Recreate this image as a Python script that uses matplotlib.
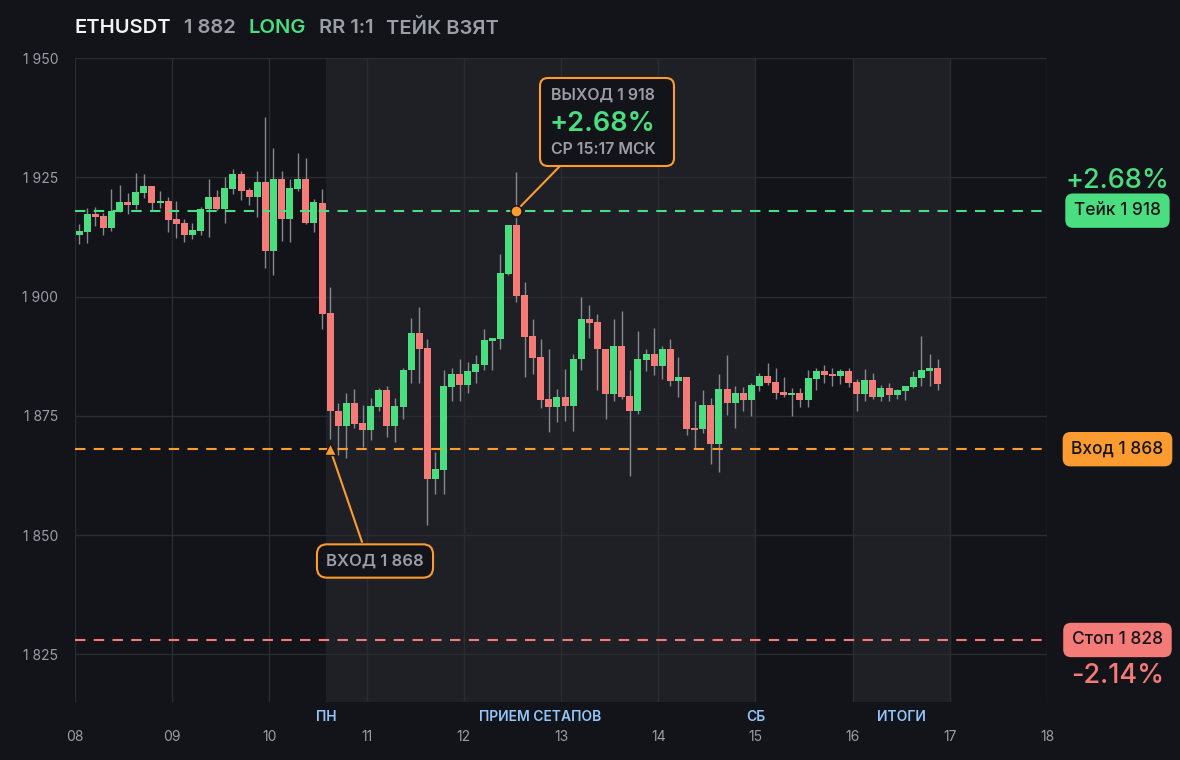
import matplotlib
matplotlib.use("Agg")
import matplotlib.pyplot as plt
from matplotlib.patches import FancyBboxPatch
from matplotlib.transforms import blended_transform_factory
import numpy as np

plt.rcParams['font.family'] = ['Inter', 'DejaVu Sans']

# ETHUSDT, 2h candles starting 08 00:00
opens = [1912.8, 1913.5, 1917.2, 1916.8, 1914.3, 1917.9, 1919.8, 1919.1, 1921.7, 1923.1,
         1919.6, 1920.0, 1916.2, 1915.4, 1913.0, 1913.7, 1918.3, 1920.8, 1918.3, 1922.5,
         1925.6, 1922.3, 1920.8, 1924.0, 1909.5, 1924.6, 1916.2, 1922.5, 1924.6, 1915.4,
         1919.7, 1896.6, 1876.1, 1872.9, 1877.7, 1873.5, 1872.1, 1876.9, 1880.3, 1872.9,
         1876.9, 1884.5, 1892.3, 1889.3, 1861.8, 1863.7, 1881.1, 1883.8, 1881.5, 1884.1,
         1885.7, 1890.6, 1891.0, 1904.8, 1914.9, 1900.4, 1891.8, 1887.4, 1878.6, 1876.9,
         1879.0, 1877.1, 1886.8, 1895.2, 1894.7, 1889.1, 1879.6, 1889.7, 1879.2, 1876.1,
         1886.6, 1888.0, 1885.5, 1888.9, 1882.2, 1883.2, 1872.5, 1872.3, 1877.3, 1869.1,
         1880.7, 1877.7, 1879.8, 1878.4, 1881.3, 1883.4, 1882.1, 1880.0, 1879.4, 1879.8,
         1878.4, 1882.8, 1884.3, 1883.8, 1883.4, 1884.3, 1882.1, 1879.6, 1882.4, 1879.0,
         1880.9, 1879.4, 1880.1, 1881.1, 1883.0, 1884.3, 1885.1]
highs = [1915.3, 1918.5, 1918.7, 1917.5, 1922.5, 1923.3, 1921.7, 1925.9, 1925.6, 1923.1,
         1922.1, 1920.8, 1920.0, 1916.2, 1915.4, 1918.7, 1924.6, 1922.3, 1925.0, 1926.7,
         1926.3, 1922.8, 1926.3, 1937.6, 1931.1, 1926.3, 1924.6, 1930.1, 1929.0, 1920.4,
         1922.5, 1902.1, 1877.7, 1879.8, 1880.7, 1877.3, 1878.8, 1880.9, 1881.3, 1878.8,
         1885.1, 1895.4, 1897.7, 1891.0, 1867.5, 1884.5, 1885.1, 1887.0, 1886.2, 1887.8,
         1893.1, 1891.4, 1909.0, 1914.9, 1926.0, 1903.0, 1895.2, 1891.0, 1888.9, 1880.7,
         1884.9, 1888.0, 1899.8, 1898.3, 1896.4, 1889.1, 1895.2, 1896.9, 1884.5, 1892.7,
         1888.9, 1893.5, 1889.7, 1891.0, 1887.4, 1883.2, 1878.2, 1880.5, 1878.8, 1883.8,
         1887.8, 1881.3, 1881.1, 1881.9, 1884.0, 1886.1, 1885.1, 1883.2, 1880.9, 1880.9,
         1884.5, 1885.1, 1885.7, 1885.1, 1884.9, 1885.1, 1882.8, 1884.9, 1884.0, 1881.5,
         1881.9, 1880.7, 1881.3, 1884.3, 1891.8, 1888.0, 1886.8]
lows = [1911.1, 1911.2, 1914.7, 1912.8, 1913.7, 1917.8, 1917.2, 1918.3, 1920.6, 1918.1,
        1918.5, 1913.5, 1912.2, 1911.4, 1912.0, 1912.8, 1912.4, 1918.1, 1915.4, 1921.5,
        1920.2, 1919.1, 1916.6, 1905.9, 1904.6, 1911.6, 1911.4, 1922.1, 1915.2, 1913.5,
        1893.1, 1870.2, 1866.8, 1866.2, 1872.5, 1868.5, 1870.0, 1876.1, 1870.6, 1869.6,
        1874.4, 1881.9, 1881.9, 1852.1, 1858.6, 1858.6, 1878.2, 1878.0, 1879.8, 1881.9,
        1884.5, 1884.5, 1888.9, 1904.6, 1898.8, 1883.2, 1883.8, 1876.7, 1871.7, 1873.7,
        1874.0, 1871.9, 1884.7, 1891.2, 1880.3, 1874.4, 1878.2, 1878.6, 1862.4, 1875.4,
        1884.3, 1883.6, 1882.8, 1881.3, 1879.0, 1871.0, 1868.3, 1871.4, 1864.9, 1863.2,
        1875.2, 1872.5, 1875.9, 1875.0, 1880.1, 1881.5, 1878.6, 1879.0, 1875.0, 1876.9,
        1876.9, 1880.5, 1881.9, 1881.3, 1881.7, 1881.1, 1876.1, 1878.2, 1878.6, 1878.2,
        1878.2, 1878.6, 1878.4, 1880.9, 1881.3, 1881.3, 1880.3]
closes = [1913.7, 1917.2, 1916.6, 1914.3, 1917.9, 1919.8, 1919.1, 1921.9, 1923.1, 1919.6,
          1920.0, 1916.0, 1915.2, 1913.0, 1913.9, 1918.3, 1920.8, 1918.3, 1922.7, 1925.6,
          1922.1, 1920.8, 1924.0, 1909.5, 1924.6, 1916.2, 1922.7, 1924.6, 1915.4, 1919.8,
          1896.4, 1875.9, 1872.9, 1877.7, 1873.3, 1872.1, 1877.1, 1880.3, 1872.9, 1877.1,
          1884.7, 1892.3, 1889.1, 1861.8, 1863.9, 1881.3, 1883.8, 1881.5, 1884.3, 1885.9,
          1890.8, 1891.2, 1905.0, 1914.9, 1900.2, 1891.6, 1887.2, 1878.4, 1876.9, 1879.0,
          1877.1, 1887.0, 1895.2, 1894.5, 1888.9, 1879.6, 1889.7, 1879.0, 1876.1, 1886.8,
          1888.0, 1885.5, 1888.9, 1882.2, 1883.2, 1872.3, 1872.1, 1877.3, 1869.1, 1880.7,
          1877.7, 1879.8, 1878.4, 1881.5, 1883.4, 1881.9, 1879.8, 1879.4, 1879.8, 1878.4,
          1883.0, 1884.3, 1883.6, 1883.4, 1884.3, 1881.9, 1879.6, 1882.4, 1879.0, 1880.9,
          1879.4, 1880.3, 1881.3, 1883.2, 1884.5, 1885.1, 1881.7]

day_ticks = list(range(8, 19))
day_labels = ["08", "09", "10", "11", "12", "13", "14", "15", "16", "17", "18"]
price_ticks = [1825, 1850, 1875, 1900, 1925, 1950]

take_price = 1918
entry_price = 1868
stop_price = 1828
entry_idx = 31
exit_idx = 54

shade_spans = [(10 + 7 / 12, 15), (16, 17)]
period_names = ["ПН", "ПРИЕМ СЕТАПОВ", "СБ", "ИТОГИ"]
period_x = [10 + 7 / 12, 12.79, 15, 16.5]

BG = "#131419"
SHADE = "#1f2025"
GRID = "#2a2c32"
GREEN = "#4ade80"
RED = "#f47b77"
ORANGE = "#fb9b30"
WICK = "#85888f"
GRAY = "#9a9ea6"
BLUE = "#93c5fd"

W, H = 1180, 760
SP = " "


def fmt(p):
    return f"{int(p) // 1000}{SP}{int(p) % 1000:03d}"


def fpx(x, y):
    # image pixel (from top-left) -> figure fraction
    return x / W, 1 - y / H


fig = plt.figure(figsize=(W / 100, H / 100), dpi=100, facecolor=BG)
ax = fig.add_axes([75 / W, 1 - 702 / H, 972 / W, 644 / H])
ax.set_facecolor(BG)
ax.set_xlim(8, 18)
ax.set_ylim(1815, 1950)

for a, b in shade_spans:
    ax.axvspan(a, b, color=SHADE, lw=0, zorder=0)

ax.set_axisbelow(True)
ax.grid(True, color=GRID, lw=1)
for s in ax.spines.values():
    s.set_visible(False)
ax.set_xticks(day_ticks)
ax.set_xticklabels(day_labels)
ax.set_yticks(price_ticks)
ax.set_yticklabels([fmt(p) for p in price_ticks])
ax.tick_params(length=0, colors=GRAY, labelsize=10)
ax.tick_params(axis='x', pad=20)
ax.tick_params(axis='y', pad=12)

# candles
o = np.array(opens); h = np.array(highs); l = np.array(lows); c = np.array(closes)
x = 8 + (np.arange(len(o)) + 0.5) / 12
cols = [GREEN if cc >= oo else RED for oo, cc in zip(o, c)]
ax.vlines(x, l, h, color=WICK, lw=1, zorder=2)
ax.bar(x, np.maximum(np.abs(c - o), 0.3), bottom=np.minimum(o, c), width=0.86 / 12,
       color=cols, lw=0, zorder=3)

# levels
ax.axhline(take_price, color=GREEN, lw=1.5, ls=(0, (5, 4)), zorder=4)
ax.axhline(entry_price, color=ORANGE, lw=1.5, ls=(0, (5, 4)), zorder=4)
ax.axhline(stop_price, color=RED, lw=1.5, ls=(0, (5, 4)), zorder=4)

# period labels under the axis
tr = blended_transform_factory(ax.transData, ax.transAxes)
for name, px in zip(period_names, period_x):
    ax.text(px, -0.024, name, transform=tr, ha='center', va='center',
            color=BLUE, fontsize=10, fontweight='semibold', clip_on=False)

# right tags
tr_r = blended_transform_factory(ax.transAxes, ax.transData)
tag_x = 1.0725
pct_take = (take_price - entry_price) / entry_price * 100
pct_stop = (stop_price - entry_price) / entry_price * 100
ax.text(tag_x, take_price + 6.3, f"+{pct_take:.2f}%", transform=tr_r, ha='center', va='center',
        color=GREEN, fontsize=19.5, fontweight='medium', clip_on=False)
ax.text(tag_x, stop_price - 7.6, f"-{abs(pct_stop):.2f}%", transform=tr_r, ha='center', va='center',
        color=RED, fontsize=19.5, fontweight='medium', clip_on=False)
for label, price, col in [("Тейк", take_price, GREEN), ("Вход", entry_price, ORANGE),
                          ("Стоп", stop_price, RED)]:
    ax.text(tag_x, price, f"{label} {fmt(price)}", transform=tr_r,
            ha='center', va='center', color="#14151a", fontsize=12.5, fontweight='medium',
            clip_on=False,
            bbox=dict(boxstyle="round,pad=0.5,rounding_size=0.45", fc=col, ec=col, lw=0))

# entry marker and box
ex = x[entry_idx]
ax.plot([ex], [entry_price], marker='^', ms=9, color=ORANGE, mec=BG, mew=1, zorder=6)
ax.annotate("", xy=(ex + 0.02, entry_price - 1.2), xycoords='data',
            xytext=(362, H - 542), textcoords='figure pixels',
            arrowprops=dict(arrowstyle='-', color=ORANGE, lw=1.5, shrinkA=0, shrinkB=0))
fig.text(*fpx(375, 561), f"ВХОД {fmt(entry_price)}",
         ha='center', va='center', color=GRAY, fontsize=12, fontweight='semibold',
         bbox=dict(boxstyle="round,pad=0.55,rounding_size=0.6", fc=BG, ec=ORANGE, lw=1.5))

# exit marker and box
xx = x[exit_idx]
ax.annotate("", xy=(xx, take_price), xycoords='data',
            xytext=(560, H - 166), textcoords='figure pixels',
            arrowprops=dict(arrowstyle='-', color=ORANGE, lw=1.5, shrinkA=0, shrinkB=0))
ax.plot([xx], [take_price], marker='o', ms=8, color=ORANGE, mec=BG, mew=1, zorder=6)
box = FancyBboxPatch((540 / 100, (H - 166) / 100), 134 / 100, 88 / 100,
                     boxstyle="round,pad=0,rounding_size=0.08", transform=fig.dpi_scale_trans,
                     fc=BG, ec=ORANGE, lw=1.5, zorder=10)
fig.patches.append(box)
fig.text(*fpx(551, 95), f"ВЫХОД {fmt(take_price)}",
         ha='left', va='center', color=GRAY, fontsize=11.5, fontweight='semibold', zorder=11)
fig.text(*fpx(550, 124), f"+{pct_take:.2f}%", ha='left', va='center', color=GREEN,
         fontsize=19.5, fontweight='semibold', zorder=11)
fig.text(*fpx(551, 149), "СР 15:17 МСК", ha='left', va='center', color=GRAY,
         fontsize=11.5, fontweight='semibold', zorder=11)

# header
last = closes[-1]
header = [("ETHUSDT", 75, "#f1f2f4"), (fmt(round(last)), 184, GRAY),
          ("LONG", 249, GREEN), ("RR 1:1", 319, GRAY), ("ТЕЙК ВЗЯТ", 386, GRAY)]
for txt, hx, col in header:
    fig.text(*fpx(hx, 28), txt, ha='left', va='center', color=col, fontsize=14.5,
             fontweight='semibold')

fig.savefig("out.png", dpi=100, facecolor=BG)
